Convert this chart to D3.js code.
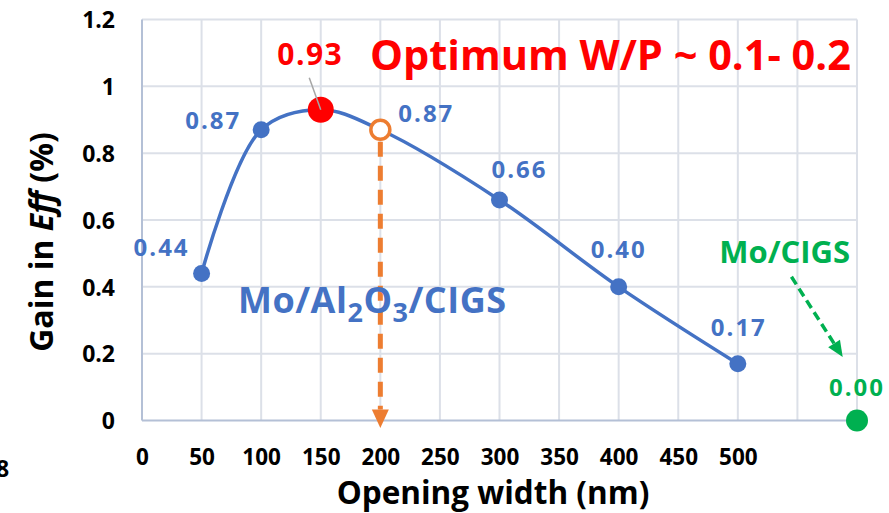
<!DOCTYPE html>
<html>
<head>
<meta charset="utf-8">
<script src="https://cdn.jsdelivr.net/npm/d3@7"></script>
<style>
  html, body { margin: 0; padding: 0; background: #fff; }
  svg { display: block; font-family: "Open Sans", sans-serif; font-weight: 700; }
</style>
</head>
<body>
<svg id="chart" width="889" height="513"></svg>
<script>
// Opening width (nm) of the Mo/Al2O3/CIGS contacts and the efficiency gain (%)
const widths = [50, 100, 150, 200, 300, 400, 500];
const gains = [0.44, 0.87, 0.93, 0.87, 0.66, 0.40, 0.17];
// Reference Mo/CIGS device (no passivation)
const refWidths = [600];
const refGains = [0.00];
// Optimum point and the projected point
const optimumWidth = 150;
const projectedWidth = 200;
// Axis ticks
const xTicks = [0, 50, 100, 150, 200, 250, 300, 350, 400, 450, 500];
const xGrid = [50, 100, 150, 200, 250, 300, 350, 400, 450, 500, 550, 600];
const yTicks = [0, 0.2, 0.4, 0.6, 0.8, 1.0, 1.2];
const yTickLabels = ["0", "0.2", "0.4", "0.6", "0.8", "1", "1.2"];

const BLUE = "#4472C4", RED = "#FF0000", GREEN = "#00B050", ORANGE = "#ED7D31";
const GRID = "#DCE0E8", AXIS = "#B4C0D6";

const svg = d3.select("#chart");
const x = d3.scaleLinear().domain([0, 600]).range([142, 857]);
const y = d3.scaleLinear().domain([0, 1.2]).range([420.5, 19.5]);

// gridlines
svg.append("g").selectAll("line").data(yTicks.slice(1)).join("line")
  .attr("x1", x(0)).attr("x2", x(600))
  .attr("y1", d => y(d)).attr("y2", d => y(d))
  .attr("stroke", GRID).attr("stroke-width", 2);
svg.append("g").selectAll("line").data(xGrid).join("line")
  .attr("x1", d => x(d)).attr("x2", d => x(d))
  .attr("y1", y(0)).attr("y2", y(1.2))
  .attr("stroke", GRID).attr("stroke-width", 2);

// axes
const xAxis = d3.axisBottom(x).tickValues(xTicks).tickSize(0).tickPadding(0);
const gx = svg.append("g").attr("transform", `translate(0,${y(0)})`).call(xAxis);
gx.select(".domain").attr("d", `M${x(0)},0H${x(600)}`).attr("stroke", AXIS).attr("stroke-width", 2);
gx.selectAll("text").attr("y", 44.5).attr("dy", null)
  .attr("font-family", "Open Sans").attr("font-weight", 700).attr("font-size", 22.5).attr("fill", "#000");

const yAxis = d3.axisLeft(y).tickValues(yTicks).tickSize(0).tickPadding(0)
  .tickFormat((d, i) => yTickLabels[i]);
const gy = svg.append("g").attr("transform", `translate(${x(0)},0)`).call(yAxis);
gy.select(".domain").attr("d", `M0,${y(0)}V${y(1.2)}`).attr("stroke", AXIS).attr("stroke-width", 2);
gy.selectAll("text").attr("x", -27).attr("dy", "0.36em")
  .attr("font-family", "Open Sans").attr("font-weight", 700).attr("font-size", 23).attr("fill", "#000");

// axis titles
svg.append("text").attr("x", 493).attr("y", 504).attr("text-anchor", "middle")
  .attr("font-size", 31.5).attr("fill", "#000").text("Opening width (nm)");
const yt = svg.append("text").attr("transform", "translate(53,242) rotate(-90)")
  .attr("text-anchor", "middle").attr("font-size", 32).attr("fill", "#000");
yt.append("tspan").text("Gain in ");
yt.append("tspan").attr("font-style", "italic").text("Eff");
yt.append("tspan").text(" (%)");

// stray tick digit at the left edge
svg.append("text").attr("x", -4).attr("y", 477).attr("font-size", 23).attr("fill", "#000").text("8");

// projection arrow from the 200 nm point down to the axis
const ax = x(projectedWidth);
const pIdx = widths.indexOf(projectedWidth);
svg.append("line").attr("x1", ax).attr("x2", ax)
  .attr("y1", y(gains[pIdx]) + 12).attr("y2", y(0) - 11)
  .attr("stroke", ORANGE).attr("stroke-width", 5).attr("stroke-dasharray", "15,9");
svg.append("path")
  .attr("d", `M${ax - 8.5},${y(0) - 11}L${ax + 8.5},${y(0) - 11}L${ax},${y(0) + 7.5}Z`)
  .attr("fill", ORANGE);

// smoothed series line
const pts = widths.map((w, i) => [x(w), y(gains[i])]);
svg.append("path").datum(pts)
  .attr("d", d3.line().curve(d3.curveCatmullRom.alpha(0.5)))
  .attr("fill", "none").attr("stroke", BLUE).attr("stroke-width", 3.5);

// markers
const plain = widths.map((w, i) => ({ w, g: gains[i] }))
  .filter(d => d.w !== optimumWidth && d.w !== projectedWidth);
svg.append("g").selectAll("circle").data(plain).join("circle")
  .attr("cx", d => x(d.w)).attr("cy", d => y(d.g)).attr("r", 8.5).attr("fill", BLUE);

const oIdx = widths.indexOf(optimumWidth);
svg.append("circle").attr("cx", x(optimumWidth)).attr("cy", y(gains[oIdx]))
  .attr("r", 13).attr("fill", RED);
svg.append("circle").attr("cx", ax).attr("cy", y(gains[pIdx]))
  .attr("r", 9.5).attr("fill", "#fff").attr("stroke", ORANGE).attr("stroke-width", 3.5);

// leader line for the optimum label
svg.append("line").attr("x1", x(optimumWidth) - 11.5).attr("y1", y(gains[oIdx]) - 32)
  .attr("x2", x(optimumWidth)).attr("y2", y(gains[oIdx]))
  .attr("stroke", "#A6A6A6").attr("stroke-width", 1.5);

svg.append("circle").attr("cx", x(refWidths[0])).attr("cy", y(refGains[0]))
  .attr("r", 11).attr("fill", GREEN);

// data labels
const fmt = d3.format(".2f");
const labelOffsets = [[-40, -17], [-48, -1], [-10.5, -45], [46, -8], [20, -22], [0, -29], [1, -28]];
svg.append("g").selectAll("text").data(widths).join("text")
  .attr("x", (w, i) => x(w) + labelOffsets[i][0])
  .attr("y", (w, i) => y(gains[i]) + labelOffsets[i][1])
  .attr("text-anchor", "middle")
  .attr("font-size", w => w === optimumWidth ? 30 : 24)
  .attr("letter-spacing", w => w === optimumWidth ? 1.5 : 2)
  .attr("fill", w => w === optimumWidth ? RED : BLUE)
  .text((w, i) => fmt(gains[i]));
svg.append("text").attr("x", x(refWidths[0])).attr("y", y(refGains[0]) - 25)
  .attr("text-anchor", "middle").attr("font-size", 24).attr("letter-spacing", 2)
  .attr("fill", GREEN).text(fmt(refGains[0]));

// annotations
svg.append("text").attr("x", 370).attr("y", 69.5).attr("font-size", 41.5).attr("fill", RED)
  .text("Optimum W/P ~ 0.1- 0.2");

const t1 = svg.append("text").attr("x", 238).attr("y", 313).attr("font-size", 36)
  .attr("letter-spacing", 0.5).attr("fill", BLUE);
t1.append("tspan").text("Mo/Al");
t1.append("tspan").attr("font-size", 27).attr("dy", 9).text("2");
t1.append("tspan").attr("dy", -9).text("O");
t1.append("tspan").attr("font-size", 27).attr("dy", 9).text("3");
t1.append("tspan").attr("dy", -9).text("/CIGS");

svg.append("text").attr("x", 850).attr("y", 263).attr("text-anchor", "end")
  .attr("font-size", 31).attr("fill", GREEN).text("Mo/CIGS");

// arrow from the Mo/CIGS label to the reference point
const gs = [x(545), y(0.43)], ge = [x(588), y(0.19)];
const ang = Math.atan2(ge[1] - gs[1], ge[0] - gs[0]);
const headLen = 16, headW = 7;
const hb = [ge[0] - headLen * Math.cos(ang), ge[1] - headLen * Math.sin(ang)];
svg.append("line").attr("x1", gs[0]).attr("y1", gs[1]).attr("x2", hb[0]).attr("y2", hb[1])
  .attr("stroke", GREEN).attr("stroke-width", 3.5).attr("stroke-dasharray", "9,5");
svg.append("path").attr("d",
  `M${ge[0]},${ge[1]}L${hb[0] + headW * Math.sin(ang)},${hb[1] - headW * Math.cos(ang)}` +
  `L${hb[0] - headW * Math.sin(ang)},${hb[1] + headW * Math.cos(ang)}Z`)
  .attr("fill", GREEN);
</script>
</body>
</html>
